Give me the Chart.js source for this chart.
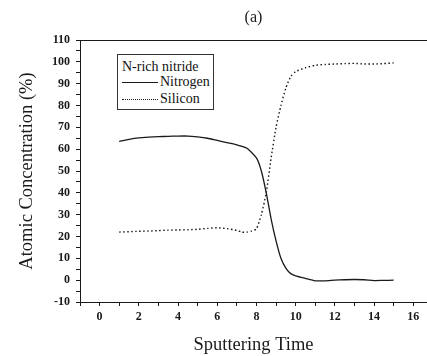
<!DOCTYPE html>
<html>
<head>
<meta charset="utf-8">
<script src="https://cdn.jsdelivr.net/npm/chart.js@4"></script>
<style>
  html, body { margin: 0; padding: 0; background: #fff; }
  #wrap { position: relative; width: 427px; height: 356px; }
  #legend {
    position: absolute; left: 117px; top: 54px; width: 95px; height: 54px;
    border: 1px solid #333; background: #fff;
    font-family: "Liberation Serif", serif; font-size: 14px; color: #111;
  }
  #legend .ttl { position: absolute; left: 4px; top: 4px; white-space: nowrap; }
  #legend .row { position: absolute; left: 4px; white-space: nowrap; }
  #legend .smp { display: inline-block; width: 36px; vertical-align: middle; margin-right: 2px; }
</style>
</head>
<body>
<div id="wrap">
  <canvas id="chart" width="427" height="356"></canvas>
  <div id="legend"></div>
</div>
<script>
// Données (a)
const timeN = [1, 1.5, 2, 2.5, 3, 3.5, 4, 4.5, 5, 5.5, 6, 6.5, 7, 7.5, 8, 8.25, 8.5, 8.75, 9, 9.25, 9.5, 9.75, 10, 10.5, 11, 11.5, 12, 12.5, 13, 13.5, 14, 14.5, 15];
const nitrogen = [63.5, 64.5, 65.2, 65.5, 65.7, 65.9, 66, 66, 65.6, 65, 64, 63, 62, 60.5, 56, 50, 40, 28, 18, 10, 5.5, 3, 2, 0.8, -0.3, -0.3, 0, 0.2, 0.3, 0.2, -0.2, -0.1, 0];

const timeSi = [1, 1.5, 2, 2.5, 3, 3.5, 4, 4.5, 5, 5.5, 6, 6.5, 7, 7.25, 7.5, 7.75, 8, 8.25, 8.5, 8.75, 9, 9.25, 9.5, 9.75, 10, 10.5, 11, 11.5, 12, 12.5, 13, 13.5, 14, 14.5, 15];
const silicon = [22, 22.2, 22.4, 22.5, 22.7, 22.9, 23, 23.1, 23.3, 23.7, 24, 23.6, 22.8, 22, 22, 22.5, 23.5, 30, 40, 56, 70, 80, 88, 93.3, 95.5, 97.3, 98.4, 98.8, 99, 99.2, 99.3, 99, 99, 99.2, 99.5];

const seriesNames = ['Nitrogen', 'Silicon'];
const legendTitle = 'N-rich nitride';
const xTitle = 'Sputtering Time';
const yTitle = 'Atomic Concentration (%)';
const panelLabel = '(a)';

const ink = '#1a1a1a';
const serif = '"Liberation Serif", "Times New Roman", serif';

function pairs(xs, ys) {
    return xs.map((x, i) => ({ x: x, y: ys[i] }));
}

// Légende en HTML, positionnée dans la zone du graphique
const legend = document.getElementById('legend');
legend.innerHTML =
    '<div class="ttl">' + legendTitle + '</div>' +
    '<div class="row" style="top:19px"><span class="smp" style="border-top:1.3px solid ' + ink + '"></span>' + seriesNames[0] + '</div>' +
    '<div class="row" style="top:36px"><span class="smp" style="border-top:1.3px dotted ' + ink + '"></span>' + seriesNames[1] + '</div>';

const ctx = document.getElementById('chart').getContext('2d');
new Chart(ctx, {
    type: 'line',
    data: {
        datasets: [{
            label: seriesNames[0],
            data: pairs(timeN, nitrogen),
            borderColor: ink,
            borderWidth: 1.3,
            pointRadius: 0,
            tension: 0.2,
            xAxisID: 'x'
        }, {
            label: seriesNames[1],
            data: pairs(timeSi, silicon),
            borderColor: ink,
            borderWidth: 1.4,
            borderDash: [1.5, 2.5],
            pointRadius: 0,
            tension: 0.2,
            xAxisID: 'x'
        }]
    },
    options: {
        responsive: false,
        animation: false,
        layout: { padding: 0 },
        plugins: {
            legend: { display: false },
            tooltip: { enabled: false }
        },
        scales: {
            x: {
                type: 'linear',
                position: 'bottom',
                min: -1,
                max: 16.7,
                afterFit: (s) => { s.height = 54; },
                ticks: {
                    stepSize: 1,
                    includeBounds: false,
                    padding: 4,
                    color: ink,
                    font: { family: serif, size: 12, weight: 'bold' },
                    maxRotation: 0,
                    autoSkip: false,
                    callback: (v) => (v >= 0 && v % 2 === 0) ? String(v) : ''
                },
                grid: { drawOnChartArea: false, tickLength: 4, color: ink },
                border: { display: true, color: ink, width: 1 },
                title: {
                    display: true,
                    text: xTitle,
                    color: ink,
                    font: { family: serif, size: 18.5 },
                    padding: { top: 0, bottom: 0 }
                }
            },
            x2: {
                type: 'linear',
                position: 'top',
                min: -1,
                max: 16.7,
                afterFit: (s) => { s.height = 40; },
                ticks: { display: false },
                grid: { display: false, drawTicks: false },
                border: { display: true, color: ink, width: 1 },
                title: {
                    display: true,
                    text: panelLabel,
                    color: ink,
                    font: { family: serif, size: 16 },
                    padding: { top: 8, bottom: 0 }
                }
            },
            y: {
                min: -10,
                max: 110,
                afterFit: (s) => { s.width = 80; },
                ticks: {
                    stepSize: 5,
                    padding: 6,
                    color: ink,
                    font: { family: serif, size: 12, weight: 'bold' },
                    autoSkip: false,
                    callback: (v) => (v % 10 === 0) ? String(v) : ''
                },
                grid: { drawOnChartArea: false, tickLength: 4, color: ink },
                border: { display: true, color: ink, width: 1 },
                title: {
                    display: true,
                    text: yTitle,
                    color: ink,
                    font: { family: serif, size: 18.5 },
                    padding: { top: 16, bottom: 0 }
                }
            }
        }
    }
});
</script>
</body>
</html>
